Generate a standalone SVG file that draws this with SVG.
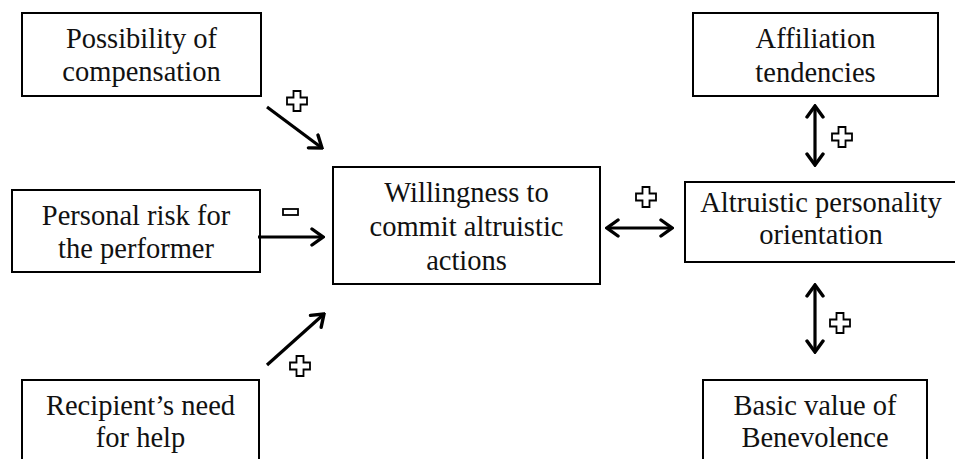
<svg xmlns="http://www.w3.org/2000/svg" width="955" height="459" viewBox="0 0 955 459">
<style>
.box{fill:#fff;stroke:#000;stroke-width:2}
.t{font-family:"Times New Roman","Liberation Serif",Times,serif;font-size:28.5px;fill:#111;text-anchor:middle}
.ln{stroke:#000;stroke-width:3.2;fill:none}
.sign{fill:#fff;stroke:#000;stroke-width:1.8}
</style>
<defs>
<marker id="ah" viewBox="0 0 16 20" refX="14" refY="10" markerWidth="16" markerHeight="20" markerUnits="userSpaceOnUse" orient="auto-start-reverse">
<path d="M3,2 L14,10 L3,18" fill="none" stroke="#000" stroke-width="3.4" stroke-linecap="round" stroke-linejoin="miter"/>
</marker>
<path id="plus" d="M-3.5,-10 H3.5 V-3.5 H10 V3.5 H3.5 V10 H-3.5 V3.5 H-10 V-3.5 H-3.5 Z"/>
</defs>
<rect width="955" height="459" fill="#fff"/>
<g id="n-compensation">
<rect class="box" x="22" y="13" width="239" height="83"/>
<text class="t" x="141.5" y="48">Possibility of</text>
<text class="t" x="141.5" y="81">compensation</text>
</g>
<g id="n-risk">
<rect class="box" x="12" y="190" width="248" height="82"/>
<text class="t" x="136" y="225">Personal risk for</text>
<text class="t" x="136" y="258">the performer</text>
</g>
<g id="n-need">
<rect class="box" x="22" y="380" width="237" height="95"/>
<text class="t" x="140.5" y="415">Recipient’s need</text>
<text class="t" x="140.5" y="447">for help</text>
</g>
<g id="n-willingness">
<rect class="box" x="333" y="167" width="267" height="117"/>
<text class="t" x="466.5" y="202">Willingness to</text>
<text class="t" x="466.5" y="236">commit altruistic</text>
<text class="t" x="466.5" y="270">actions</text>
</g>
<g id="n-altruistic">
<rect class="box" x="685" y="182" width="272" height="80"/>
<text class="t" x="821" y="212">Altruistic personality</text>
<text class="t" x="821" y="244">orientation</text>
</g>
<g id="n-affiliation">
<rect class="box" x="693" y="13" width="245" height="83"/>
<text class="t" x="815.5" y="48">Affiliation</text>
<text class="t" x="815.5" y="82">tendencies</text>
</g>
<g id="n-benevolence">
<rect class="box" x="703" y="380" width="224" height="95"/>
<text class="t" x="815" y="415">Basic value of</text>
<text class="t" x="815" y="447">Benevolence</text>
</g>
<g id="connectors">
<line class="ln" x1="267" y1="107" x2="322" y2="148" marker-end="url(#ah)"/>
<line class="ln" x1="258" y1="237" x2="323" y2="237" marker-end="url(#ah)"/>
<line class="ln" x1="267" y1="365" x2="324" y2="314" marker-end="url(#ah)"/>
<line class="ln" x1="607" y1="228" x2="672" y2="228" marker-start="url(#ah)" marker-end="url(#ah)"/>
<line class="ln" x1="815" y1="106" x2="815" y2="165" marker-start="url(#ah)" marker-end="url(#ah)"/>
<line class="ln" x1="815" y1="285" x2="815" y2="352" marker-start="url(#ah)" marker-end="url(#ah)"/>
</g>
<g id="signs">
<use href="#plus" class="sign" x="297" y="101"/>
<rect class="sign" x="283" y="209" width="15" height="6"/>
<use href="#plus" class="sign" x="300" y="366"/>
<use href="#plus" class="sign" x="646" y="197"/>
<use href="#plus" class="sign" x="842" y="137"/>
<use href="#plus" class="sign" x="840" y="323"/>
</g>
</svg>
